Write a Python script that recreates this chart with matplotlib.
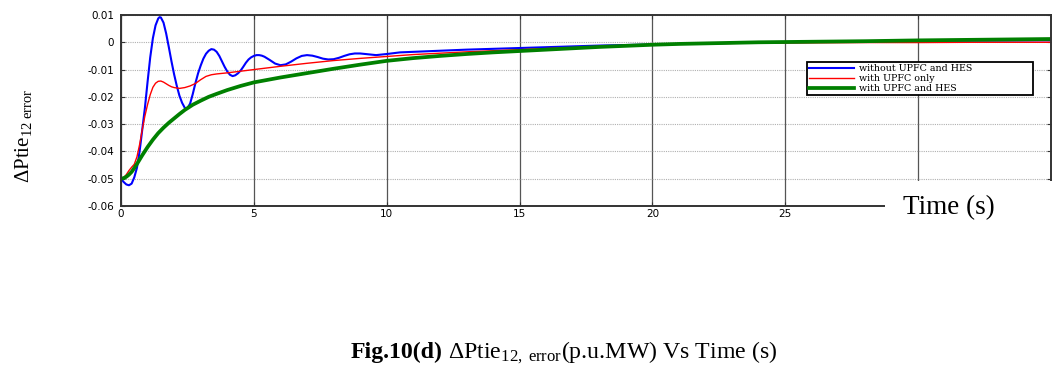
import matplotlib
matplotlib.use("Agg")
import matplotlib.pyplot as plt
from matplotlib.patches import Rectangle
from matplotlib.ticker import FixedLocator, FixedFormatter

plt.rcParams['mathtext.fontset'] = 'custom'
plt.rcParams['mathtext.rm'] = 'Liberation Serif'
plt.rcParams['mathtext.it'] = 'Liberation Serif:italic'
plt.rcParams['mathtext.bf'] = 'Liberation Serif:bold'

# ---------------- data ----------------
t_blue = [0.0, 0.1, 0.2, 0.3, 0.4, 0.5, 0.6, 0.7, 0.8, 0.9, 1.0, 1.1, 1.2, 1.3, 1.4, 1.45, 1.5,
          1.6, 1.7, 1.8, 1.9, 2.0, 2.1, 2.2, 2.3, 2.4, 2.45, 2.5, 2.6, 2.7, 2.8, 2.9, 3.0,
          3.1, 3.2, 3.3, 3.4, 3.5, 3.6, 3.7, 3.8, 3.9, 4.0, 4.1, 4.2, 4.3, 4.4, 4.5, 4.6,
          4.7, 4.8, 4.9, 5.0, 5.1, 5.2, 5.3, 5.4, 5.6, 5.8, 6.0, 6.2, 6.4, 6.6, 6.8, 7.0,
          7.2, 7.4, 7.6, 7.8, 8.0, 8.2, 8.4, 8.6, 8.8, 9.0, 9.3, 9.6, 10.0, 10.5, 11.0,
          12.0, 13.0, 14.0, 15.0, 16.0, 17.0, 18.0, 19.0, 20.0, 22.0, 24.0, 26.0, 28.0,
          30.0, 32.0, 35.0]
dp_blue = [-0.0500, -0.0512, -0.0521, -0.0524, -0.0518, -0.0495, -0.0460, -0.0400, -0.0320,
           -0.0240, -0.0145, -0.0055, 0.0015, 0.0062, 0.0087, 0.0092, 0.0091,
           0.0072, 0.0032, -0.0018, -0.0070, -0.0118, -0.0160, -0.0196, -0.0222, -0.0240,
           -0.0243, -0.0241, -0.0225, -0.0190, -0.0150, -0.0114, -0.0085,
           -0.0060, -0.0042, -0.0031, -0.0025, -0.0027, -0.0035, -0.0050, -0.0070, -0.0090,
           -0.0107, -0.0119, -0.0124, -0.0121, -0.0114, -0.0104, -0.0090,
           -0.0075, -0.0063, -0.0055, -0.0050, -0.0047, -0.0047, -0.0049, -0.0053, -0.0065,
           -0.0078, -0.0084, -0.0081, -0.0071, -0.0059, -0.0050, -0.0047,
           -0.0049, -0.0054, -0.0060, -0.0063, -0.0062, -0.0057, -0.0050, -0.0044, -0.0041,
           -0.0041, -0.0044, -0.0047, -0.0043, -0.0037, -0.0035,
           -0.0031, -0.0027, -0.0024, -0.0021, -0.0018, -0.0015, -0.0012, -0.0010, -0.0008,
           -0.0004, -0.0001, 0.0001, 0.0003, 0.0005, 0.0006, 0.0007]

t_red = [0.0, 0.1, 0.2, 0.3, 0.4, 0.5, 0.6, 0.7, 0.8, 0.9, 1.0, 1.1, 1.2, 1.3, 1.4, 1.5,
         1.6, 1.7, 1.8, 1.9, 2.0, 2.2, 2.4, 2.6, 2.8, 3.0, 3.2, 3.4, 3.6, 4.0, 4.5, 5.0,
         5.5, 6.0, 7.0, 8.0, 9.0, 10.0, 11.0, 12.0, 13.0, 14.0, 15.0, 16.0, 17.0, 18.0,
         19.0, 20.0, 22.0, 24.0, 26.0, 28.0, 30.0, 32.0, 35.0]
dp_red = [-0.0500, -0.0496, -0.0485, -0.0470, -0.0458, -0.0447, -0.0420, -0.0375, -0.0320,
          -0.0270, -0.0228, -0.0192, -0.0165, -0.0150, -0.0143, -0.0142,
          -0.0146, -0.0152, -0.0158, -0.0163, -0.0166, -0.0169, -0.0166, -0.0160, -0.0151,
          -0.0137, -0.0125, -0.0119, -0.0116, -0.0112, -0.0106, -0.0100,
          -0.0094, -0.0088, -0.0077, -0.0067, -0.0059, -0.0052, -0.0045, -0.0040, -0.0035,
          -0.0031, -0.0027, -0.0023, -0.0020, -0.0016,
          -0.0013, -0.0010, -0.0005, -0.0003, -0.0002, -0.0001, -0.0001, 0.0000, 0.0000]

t_green = [0.0, 0.1, 0.2, 0.3, 0.4, 0.5, 0.6, 0.7, 0.8, 0.9, 1.0, 1.2, 1.4, 1.6, 1.8, 2.0,
           2.2, 2.4, 2.7, 3.0, 3.3, 3.6, 4.0, 4.5, 5.0, 5.5, 6.0, 7.0, 8.0, 9.0, 10.0,
           11.0, 12.0, 13.0, 14.0, 15.0, 16.0, 17.0, 18.0, 19.0, 20.0, 21.0, 22.0, 23.0,
           24.0, 25.0, 26.0, 28.0, 30.0, 32.0, 35.0]
dp_green = [-0.0500, -0.0498, -0.0493, -0.0485, -0.0475, -0.0461, -0.0446, -0.0430, -0.0414,
            -0.0399, -0.0384, -0.0357, -0.0333, -0.0313, -0.0295, -0.0279,
            -0.0263, -0.0248, -0.0229, -0.0214, -0.0200, -0.0189, -0.0175, -0.0160, -0.0147,
            -0.0138, -0.0129, -0.0113, -0.0097, -0.0082, -0.0068,
            -0.0058, -0.0050, -0.0043, -0.0037, -0.0032, -0.0027, -0.0022, -0.0017, -0.0013,
            -0.0009, -0.0006, -0.0004, -0.0002,
            0.0000, 0.0001, 0.0002, 0.0004, 0.0007, 0.0009, 0.0012]

series_labels = ['without UPFC and HES', 'with UPFC only', 'with UPFC and HES']
x_ticks = [0, 5, 10, 15, 20, 25, 30, 35]
x_tick_labels = ['0', '5', '10', '15', '20', '25', '', '']   # 30 and 35 hidden under the axis title
y_ticks = [-0.06, -0.05, -0.04, -0.03, -0.02, -0.01, 0.0, 0.01]
y_tick_labels = ['-0.06', '-0.05', '-0.04', '-0.03', '-0.02', '-0.01', '0', '0.01']

# ---------------- figure ----------------
W, H = 1052, 367
fig = plt.figure(figsize=(W / 100, H / 100), dpi=100)
ax = fig.add_axes([121 / W, 1 - 206 / H, (1051 - 121) / W, (206 - 15) / H])

ax.plot(t_blue, dp_blue, color='#0000ff', lw=1.5, label=series_labels[0])
ax.plot(t_red, dp_red, color='#ff0000', lw=1.0, label=series_labels[1])
ax.plot(t_green, dp_green, color='#008000', lw=2.7, label=series_labels[2])

ax.set_xlim(0, 35)
ax.set_ylim(-0.06, 0.01)
ax.xaxis.set_major_locator(FixedLocator(x_ticks))
ax.xaxis.set_major_formatter(FixedFormatter(x_tick_labels))
ax.yaxis.set_major_locator(FixedLocator(y_ticks))
ax.yaxis.set_major_formatter(FixedFormatter(y_tick_labels))

ax.tick_params(direction='in', length=3, width=0.8, colors='#333333',
               top=True, right=True, labelsize=7.5)
ax.tick_params(axis='y', pad=5)
ax.tick_params(axis='x', pad=2)
for lab in ax.get_xticklabels() + ax.get_yticklabels():
    lab.set_color('black')
    lab.set_fontfamily('DejaVu Sans')

ax.xaxis.grid(True, color='#555555', lw=0.9, ls='-')
ax.yaxis.grid(True, color='#b0b0b0', lw=0.8, ls=(0, (1, 1)))
ax.set_axisbelow(True)
for s in ax.spines.values():
    s.set_color('#333333')
    s.set_linewidth(1.4)

leg = ax.legend(loc='upper left',
                bbox_to_anchor=((807 - 121) / 930, (206 - 94) / 191, (1033 - 807) / 930, (94 - 62) / 191),
                mode='expand', borderaxespad=0, prop={'family': 'DejaVu Serif', 'size': 6.8},
                handlelength=4.8, handletextpad=0.5, labelspacing=0.12, borderpad=0.2,
                fancybox=False, framealpha=1, edgecolor='black')
leg.get_frame().set_linewidth(1.3)

# white box hiding the lower right corner, with the axis label
fig.patches.append(Rectangle((885 / W, 1 - 228 / H), (W - 885) / W, (228 - 181) / H,
                             transform=fig.transFigure, facecolor='white',
                             edgecolor='none', zorder=5))
fig.text(903 / W, 1 - 214 / H, 'Time (s)', family='Liberation Serif', fontsize=19.5,
         ha='left', va='baseline', zorder=6)

fig.text(23 / W, 1 - 136 / H, r'$\Delta$Ptie$_{12\ \mathrm{error}}$', family='Liberation Serif',
         fontsize=15, rotation=90, ha='center', va='center')

# caption: bold part + regular part, centred together
cap_size = 17.2
cap_y = 1 - 358 / H
t1 = fig.text(0, cap_y, 'Fig.10(d)', family='Liberation Serif', weight='bold',
              fontsize=cap_size, ha='left', va='baseline')
t2 = fig.text(0, cap_y, r'$\Delta$Ptie$_{12,\ \mathrm{error}}$(p.u.MW) Vs Time (s)',
              family='Liberation Serif', fontsize=cap_size, ha='left', va='baseline')
fig.canvas.draw()
r = fig.canvas.get_renderer()
w1 = t1.get_window_extent(r).width
w2 = t2.get_window_extent(r).width
gap = 5
x0 = 564 - (w1 + gap + w2) / 2
t1.set_x(x0 / W)
t2.set_x((x0 + w1 + gap) / W)

fig.savefig('out.png', dpi=100)
